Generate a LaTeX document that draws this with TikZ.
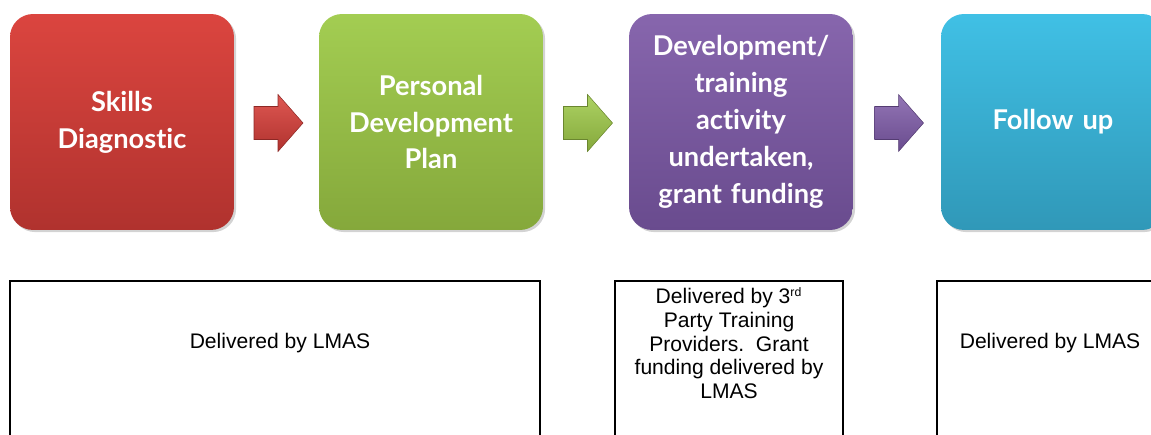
\documentclass[tikz,border=0pt]{standalone}
\usepackage{fontspec}
\setmainfont{Liberation Sans}
\newfontfamily\stagefont[Ligatures=NoCommon]{Lato}
\usetikzlibrary{calc,shadows}

\definecolor{redtop}{HTML}{DB453F}
\definecolor{redbot}{HTML}{B0322E}
\definecolor{greentop}{HTML}{A3CD52}
\definecolor{greenbot}{HTML}{85A83B}
\definecolor{purpletop}{HTML}{8766AD}
\definecolor{purplebot}{HTML}{694B8E}
\definecolor{cyantop}{HTML}{40C0E5}
\definecolor{cyanbot}{HTML}{3098B8}

\tikzset{
	stage/.style={rounded corners=0.46cm, minimum width=4.48cm, minimum height=4.32cm,
		text width=4.3cm, align=center, text=white, inner sep=0pt,
		font=\stagefont\bfseries\fontsize{15.5}{21}\selectfont,
		drop shadow={shadow xshift=1.2pt, shadow yshift=-1.2pt, opacity=0.35}},
	outbox/.style={draw=black, line width=1.1pt, inner sep=0pt, minimum height=3.58cm},
	outtext/.style={align=center, inner sep=0pt, font=\fontsize{12}{13.5}\selectfont}
}

% block arrow drawn around a centre point
\def\blockarrow[#1](#2){\shade[#1] ($(#2)+(-24,-16.5)$) -- ($(#2)+(0,-16.5)$) -- ($(#2)+(0,-28.5)$) -- ($(#2)+(25,0)$) -- ($(#2)+(0,28.5)$) -- ($(#2)+(0,16.5)$) -- ($(#2)+(-24,16.5)$) -- cycle;}

\begin{document}
\begin{tikzpicture}[x=0.02cm, y=-0.02cm]
		%%%%% START %%%%%
		\useasboundingbox (0, 0) rectangle (1151, 435);
		\clip (0, 0) rectangle (1151, 435);
		
		\node[stage, top color=redtop, bottom color=redbot] (skills) at (122, 122) {Skills\\Diagnostic};
		\node[stage, top color=greentop, bottom color=greenbot] (plan) at (431, 122) {Personal\\Development\\Plan};
		\node[stage, top color=purpletop, bottom color=purplebot] (activity) at (741, 122) {Development/\\training\\activity\\undertaken,\\grant funding};
		\node[stage, top color=cyantop, bottom color=cyanbot] (followup) at (1053, 122) {Follow up};
		
		\coordinate (arrA) at ($(skills.east)!0.5!(plan.west)+(1.5, 1)$);
		\coordinate (arrB) at ($(plan.east)!0.5!(activity.west)+(1.5, 1)$);
		\coordinate (arrC) at ($(activity.east)!0.5!(followup.west)+(1.5, 1)$);
		
		\blockarrow[top color=redtop!90!white, bottom color=redbot, draw=redbot!80!black, line width=0.3pt](arrA)
		\blockarrow[top color=greentop!90!white, bottom color=greenbot, draw=greenbot!80!black, line width=0.3pt](arrB)
		\blockarrow[top color=purpletop!90!white, bottom color=purplebot, draw=purplebot!80!black, line width=0.3pt](arrC)
		
		\node[outbox, minimum width=10.6cm] (lmasA) at (275, 370.5) {};
		\node[outbox, minimum width=4.56cm] (thirdparty) at (729, 370.5) {};
		\node[outbox, minimum width=4.56cm] (lmasB) at (1051, 370.5) {};
		
		\node[outtext] (lmasAtext) at (280, 343) {Delivered by LMAS};
		\node[outtext] (thirdtext) at (729, 343) {Delivered by 3\textsuperscript{\scriptsize rd}\\Party Training\\Providers.\ \ Grant\\funding delivered by\\LMAS};
		\node[outtext] (lmasBtext) at (1050, 343) {Delivered by LMAS};
		
		%%%%% END %%%%%
\end{tikzpicture}
\end{document}
